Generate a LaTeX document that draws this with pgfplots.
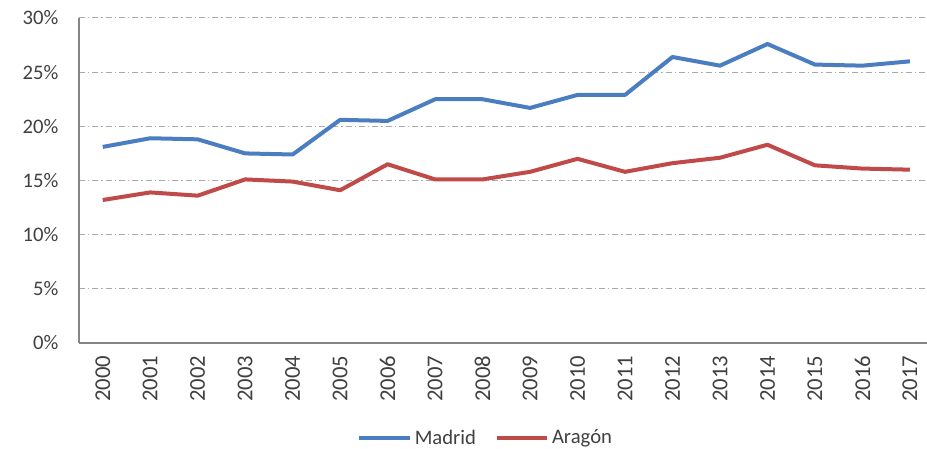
\documentclass[border=0pt]{standalone}
\usepackage{fontspec}
\setmainfont{Carlito}
\usepackage{pgfplots}
\pgfplotsset{compat=1.18}
\definecolor{madrid}{RGB}{74,126,193}
\definecolor{aragon}{RGB}{192,74,72}
\definecolor{gridgray}{RGB}{170,170,170}
\definecolor{axgray}{RGB}{134,134,134}
\definecolor{txt}{RGB}{64,64,64}

\begin{document}
\begin{tikzpicture}
\begin{axis}[
  scale only axis, width=636pt, height=243.75pt,
  xmin=-0.5, xmax=17.36, ymin=0, ymax=30,
  axis x line*=bottom, axis y line*=left,
  axis line style={axgray, line width=1.1pt, -},
  major tick length=0pt,
  xtick={0,...,17},
  xticklabels={2000,2001,2002,2003,2004,2005,2006,2007,2008,2009,2010,2011,2012,2013,2014,2015,2016,2017},
  ytick={0,5,...,30},
  yticklabel={\pgfmathprintnumber{\tick}\%},
  /pgf/number format/assume math mode=true,
  tick label style={font=\fontsize{15.5}{17}\selectfont, text=txt},
  xticklabel style={rotate=90, anchor=east, xshift=-6pt, font=\fontsize{17}{19}\selectfont},
  yticklabel style={xshift=-12pt},
  ymajorgrids,
  major grid style={gridgray, line width=0.75pt, dash pattern=on 4.5pt off 2.25pt on 1pt off 2.25pt},
  legend columns=2,
  legend style={draw=none, fill=none, at={(0.48,-0.292)}, anchor=center,
    font=\fontsize{15.5}{17}\selectfont, text=txt,
    /tikz/every even column/.append style={column sep=12pt}},
  legend image code/.code={\draw[#1, line width=3pt] (0pt,0pt) -- (38pt,0pt);},
]
\addplot[madrid, line width=3pt, line join=round] coordinates {
  (0,18.1)(1,18.9)(2,18.8)(3,17.5)(4,17.4)(5,20.6)(6,20.5)(7,22.5)(8,22.5)
  (9,21.7)(10,22.9)(11,22.9)(12,26.4)(13,25.6)(14,27.6)(15,25.7)(16,25.6)(17,26.0)};
\addlegendentry{Madrid}
\addplot[aragon, line width=3pt, line join=round] coordinates {
  (0,13.2)(1,13.9)(2,13.6)(3,15.1)(4,14.9)(5,14.1)(6,16.5)(7,15.1)(8,15.1)
  (9,15.8)(10,17.0)(11,15.8)(12,16.6)(13,17.1)(14,18.3)(15,16.4)(16,16.1)(17,16.0)};
\addlegendentry{Aragón}
\end{axis}
\pgfresetboundingbox
\path[use as bounding box] ([xshift=-59.25pt, yshift=-79.5pt]current axis.south west)
  rectangle ([yshift=13.5pt]current axis.north east);
\end{tikzpicture}
\end{document}
